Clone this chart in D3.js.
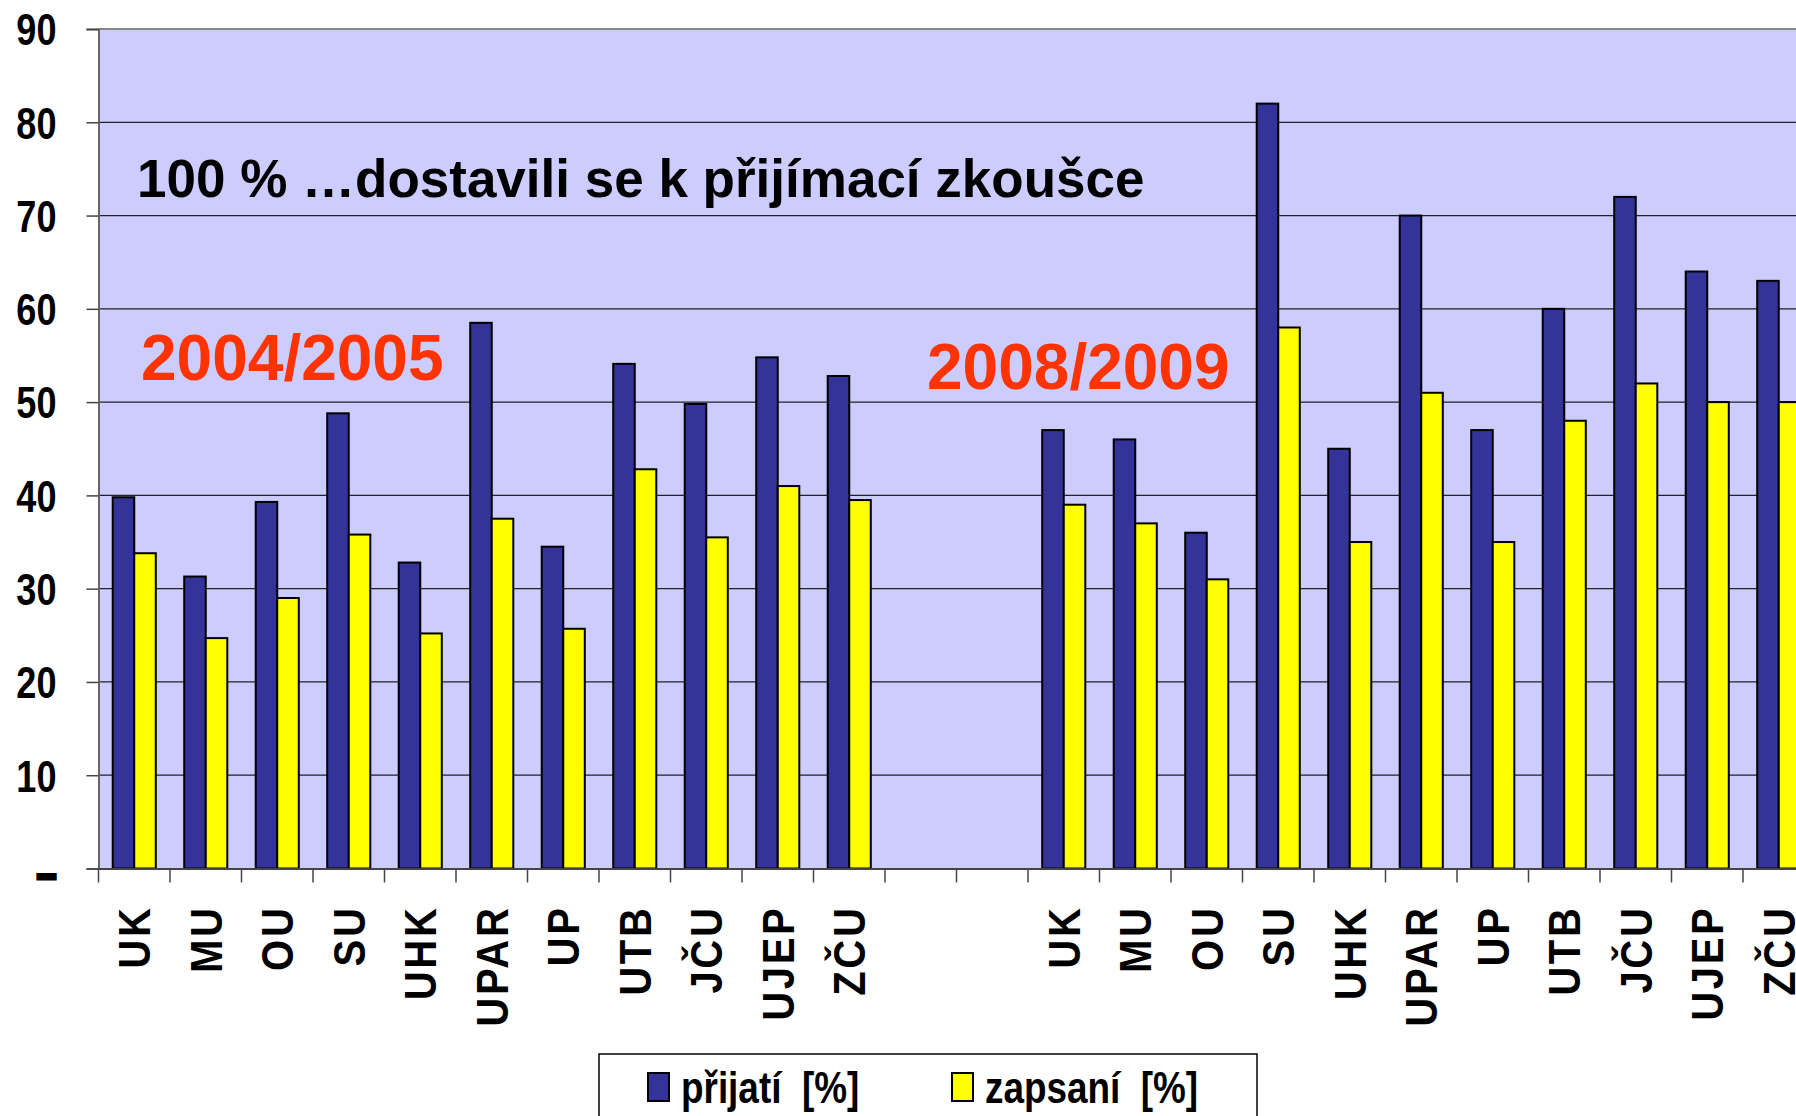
<!DOCTYPE html>
<html lang="cs">
<head>
<meta charset="utf-8">
<title>přijatí / zapsaní</title>
<script src="https://cdn.jsdelivr.net/npm/d3@7"></script>
<style>
  html, body { margin: 0; padding: 0; background: #fff; }
  svg { display: block; }
  .bold { font-family: "Liberation Sans", Arial, sans-serif; font-weight: bold; }
</style>
</head>
<body>
<svg id="chart" width="1796" height="1116"></svg>
<script>
// univerzity, stejné pro oba roky
const schools = ["UK", "MU", "OU", "SU", "UHK", "UPAR", "UP", "UTB", "JČU", "UJEP", "ZČU"];

// 2004/2005
const prijati2004 = [39.8, 31.3, 39.3, 48.8, 32.8, 58.5, 34.5, 54.1, 49.8, 54.8, 52.8];
const zapsani2004 = [33.8, 24.7, 29.0, 35.8, 25.2, 37.5, 25.7, 42.8, 35.5, 41.0, 39.5];

// 2008/2009
const prijati2008 = [47, 46, 36, 82, 45, 70, 47, 60, 72, 64, 63];
const zapsani2008 = [39, 37, 31, 58, 35, 51, 35, 48, 52, 50, 50];

const yTicks = [0, 10, 20, 30, 40, 50, 60, 70, 80, 90];
const series = ["prijati", "zapsani"];
const seriesNames = ["přijatí  [%]", "zapsaní  [%]"];
const seriesColors = ["#333399", "#FFFF00"];

const rows = [];
schools.forEach((s, i) => rows.push({ key: "2004-" + s, label: s, prijati: prijati2004[i], zapsani: zapsani2004[i] }));
rows.push({ key: "gap-1", label: "" });
rows.push({ key: "gap-2", label: "" });
schools.forEach((s, i) => rows.push({ key: "2008-" + s, label: s, prijati: prijati2008[i], zapsani: zapsani2008[i] }));

const svg = d3.select("#chart");
const plotLeft = 98.5;
const step = 71.5;
const plotTop = 29;
const plotBottom = 868.5;
const narrow = 0.82; // Arial Narrow is not installed, squeeze Liberation Sans instead

const x = d3.scaleBand()
  .domain(rows.map((d) => d.key))
  .range([plotLeft, plotLeft + rows.length * step]);

const xInner = d3.scaleBand()
  .domain(series)
  .range([0, x.bandwidth()])
  .paddingOuter(0.66);

const y = d3.scaleLinear().domain([0, 90]).range([plotBottom, plotTop]);

// plot area
svg.append("rect")
  .attr("x", plotLeft)
  .attr("y", plotTop)
  .attr("width", 1796 - plotLeft + 20)
  .attr("height", plotBottom - plotTop)
  .attr("fill", "#CCCCFF");

// gridlines
svg.append("g")
  .selectAll("line")
  .data(yTicks.filter((t) => t > 0))
  .join("line")
  .attr("x1", plotLeft)
  .attr("x2", 1800)
  .attr("y1", (d) => y(d))
  .attr("y2", (d) => y(d))
  .attr("stroke", (d) => (d === 90 ? "#888" : "#222"))
  .attr("stroke-width", (d) => (d === 90 ? 2 : 1.3));

// bars
const groups = svg.append("g")
  .selectAll("g")
  .data(rows.filter((d) => d.label))
  .join("g")
  .attr("transform", (d) => `translate(${x(d.key)},0)`);

groups.selectAll("rect")
  .data((d) => series.map((k, i) => ({ k, v: d[k], c: seriesColors[i] })))
  .join("rect")
  .attr("x", (d) => xInner(d.k))
  .attr("width", xInner.bandwidth())
  .attr("y", (d) => y(d.v))
  .attr("height", (d) => y(0) - y(d.v))
  .attr("fill", (d) => d.c)
  .attr("stroke", "#000")
  .attr("stroke-width", 2);

// y axis
const yAxis = svg.append("g")
  .attr("transform", `translate(${plotLeft},0)`)
  .call(d3.axisLeft(y).tickValues(yTicks).tickSize(12)
    .tickFormat((d) => (d === 0 ? "–" : d)));
yAxis.select(".domain").attr("stroke", "#666").attr("stroke-width", 2);
yAxis.selectAll(".tick line").attr("stroke", "#444").attr("stroke-width", 1.5);
yAxis.selectAll(".tick text")
  .attr("class", "bold")
  .attr("font-size", 44)
  .attr("fill", "#000")
  .attr("x", 0)
  .attr("dy", "0.36em")
  .attr("transform", (d) => `translate(-42,${d === 0 ? 4 : 0}) scale(${narrow},1)`)
  .attr("stroke", (d) => (d === 0 ? "#000" : null))
  .attr("stroke-width", (d) => (d === 0 ? 3 : null));

// x axis
const xAxis = svg.append("g")
  .attr("transform", `translate(0,${plotBottom})`)
  .call(d3.axisBottom(x).tickSize(0).tickFormat((k) => rows.find((r) => r.key === k).label));
xAxis.select(".domain").attr("stroke", "#444").attr("stroke-width", 2);
xAxis.selectAll(".tick text")
  .attr("class", "bold")
  .attr("font-size", 45)
  .attr("letter-spacing", 3)
  .attr("fill", "#000")
  .attr("text-anchor", "end")
  .attr("dy", null)
  .attr("x", 0)
  .attr("y", 0)
  .attr("dominant-baseline", "central")
  .attr("transform", "translate(0,37) rotate(-90) scale(0.89,1)");

// category separators
svg.append("g")
  .selectAll("line")
  .data(rows)
  .join("line")
  .attr("x1", (d) => x(d.key))
  .attr("x2", (d) => x(d.key))
  .attr("y1", plotBottom)
  .attr("y2", plotBottom + 14)
  .attr("stroke", "#444")
  .attr("stroke-width", 1.5);

// annotations
svg.append("text")
  .attr("class", "bold")
  .attr("x", 137)
  .attr("y", 197)
  .attr("font-size", 53)
  .attr("fill", "#000")
  .text("100 % …dostavili se k přijímací zkoušce");

svg.append("text")
  .attr("class", "bold")
  .attr("x", 141)
  .attr("y", 380)
  .attr("font-size", 64)
  .attr("fill", "#FF3300")
  .text("2004/2005");

svg.append("text")
  .attr("class", "bold")
  .attr("x", 927)
  .attr("y", 389)
  .attr("font-size", 64)
  .attr("fill", "#FF3300")
  .text("2008/2009");

// legend
const legend = svg.append("g");
legend.append("rect")
  .attr("x", 599)
  .attr("y", 1054)
  .attr("width", 658)
  .attr("height", 100)
  .attr("fill", "#fff")
  .attr("stroke", "#000")
  .attr("stroke-width", 1.5);

const legendX = [648, 952];
const items = legend.selectAll("g")
  .data(seriesNames)
  .join("g")
  .attr("transform", (d, i) => `translate(${legendX[i]},1087)`);
items.append("rect")
  .attr("x", 0)
  .attr("y", -14)
  .attr("width", 21)
  .attr("height", 28)
  .attr("fill", (d, i) => seriesColors[i])
  .attr("stroke", "#000")
  .attr("stroke-width", 2);
items.append("text")
  .attr("class", "bold")
  .attr("x", 0)
  .attr("y", 0)
  .attr("dy", "0.36em")
  .attr("transform", `translate(33,0) scale(${narrow},1)`)
  .attr("font-size", 45)
  .attr("fill", "#000")
  .style("white-space", "pre")
  .text((d) => d);
</script>
</body>
</html>
